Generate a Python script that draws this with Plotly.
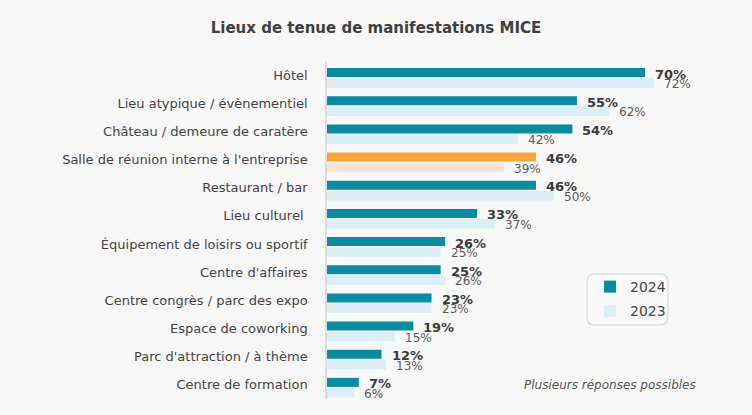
import plotly.graph_objects as go

categories = [
    "Hôtel",
    "Lieu atypique / évènementiel",
    "Château / demeure de caratère",
    "Salle de réunion interne à l'entreprise",
    "Restaurant / bar",
    "Lieu culturel\u00a0",
    "Équipement de loisirs ou sportif",
    "Centre d'affaires",
    "Centre congrès / parc des expo",
    "Espace de coworking",
    "Parc d'attraction / à thème",
    "Centre de formation",
]
values_2024 = [70, 55, 54, 46, 46, 33, 26, 25, 23, 19, 12, 7]
values_2023 = [72, 62, 42, 39, 50, 37, 25, 26, 23, 15, 13, 6]
highlight = "Salle de réunion interne à l'entreprise"

TEAL, LIGHT_BLUE = "#0b8ba1", "#dbedf5"
ORANGE, LIGHT_ORANGE = "#f9a33c", "#fbe4d6"
BG = "#f8f8f8"
FONT = "DejaVu Sans"

W, H = 752, 415
ML, MR, MT, MB = 327, 16, 61, 16
PW, PH = W - ML - MR, H - MT - MB

col24 = [ORANGE if c == highlight else TEAL for c in categories]
col23 = [LIGHT_ORANGE if c == highlight else LIGHT_BLUE for c in categories]

fig = go.Figure()
fig.add_trace(go.Bar(name="2024", y=categories, x=values_2024, orientation="h",
                     offset=-0.25, width=0.32, legendgroup="a",
                     marker=dict(color=col24, line=dict(width=0))))
fig.add_trace(go.Bar(name="2023", y=categories, x=values_2023, orientation="h",
                     offset=0.11, width=0.34, legendgroup="b",
                     marker=dict(color=col23, line=dict(width=0))))

anns = []
for c, v in zip(categories, values_2024):
    anns.append(dict(x=v, y=c, xref="x", yref="y", text=f"<b>{v}%</b>", showarrow=False,
                     xanchor="left", yanchor="middle", xshift=8, yshift=1,
                     font=dict(family=FONT, size=13, color="#3a3a3a")))
for c, v in zip(categories, values_2023):
    anns.append(dict(x=v, y=c, xref="x", yref="y", text=f"{v}%", showarrow=False,
                     xanchor="left", yanchor="middle", xshift=8, yshift=-9,
                     font=dict(family=FONT, size=12, color="#5a5a5a")))
anns.append(dict(x=(698 - ML) / PW, y=(H - MB - 385) / PH, xref="paper", yref="paper",
                 text="<i>Plusieurs réponses possibles</i>", showarrow=False,
                 xanchor="right", yanchor="middle",
                 font=dict(family=FONT, size=12, color="#555555")))

def px2paper(px, py):
    return (px - ML) / PW, (H - MB - py) / PH

def rounded_rect(x0, y0, x1, y1, r):
    def P(px, py):
        a, b = px2paper(px, py)
        return f"{a:.5f},{b:.5f}"
    return (f"M {P(x0 + r, y0)} L {P(x1 - r, y0)} Q {P(x1, y0)} {P(x1, y0 + r)} "
            f"L {P(x1, y1 - r)} Q {P(x1, y1)} {P(x1 - r, y1)} "
            f"L {P(x0 + r, y1)} Q {P(x0, y1)} {P(x0, y1 - r)} "
            f"L {P(x0, y0 + r)} Q {P(x0, y0)} {P(x0 + r, y0)} Z")

shapes = [dict(type="path", xref="paper", yref="paper",
               path=rounded_rect(587, 274, 668, 325, 8),
               line=dict(color="#dddddd", width=1.5), fillcolor=BG, layer="below")]

lx, ly = px2paper(590, 271)
fig.update_layout(
    width=W, height=H,
    margin=dict(l=ML, r=MR, t=MT, b=MB),
    paper_bgcolor=BG, plot_bgcolor=BG,
    barmode="overlay",
    title=dict(text="<b>Lieux de tenue de manifestations MICE</b>", x=0.5, xanchor="center",
               y=1 - 28 / H, yanchor="middle",
               font=dict(family=FONT, size=15, color="#404040")),
    xaxis=dict(range=[0, 90], visible=False),
    yaxis=dict(range=[len(categories) - 0.5, -0.5], showline=True, linecolor="#dcdcdc",
               linewidth=1.5, showgrid=False, ticks="", ticklabelstandoff=15,
               tickfont=dict(family=FONT, size=13, color="#444444")),
    legend=dict(x=lx, y=ly, xanchor="left", yanchor="top", bgcolor="rgba(0,0,0,0)",
                font=dict(family=FONT, size=14, color="#444444"), traceorder="grouped",
                tracegroupgap=3, itemwidth=30),
    annotations=anns,
    shapes=shapes,
    showlegend=True,
)
fig.write_html("out.html")
